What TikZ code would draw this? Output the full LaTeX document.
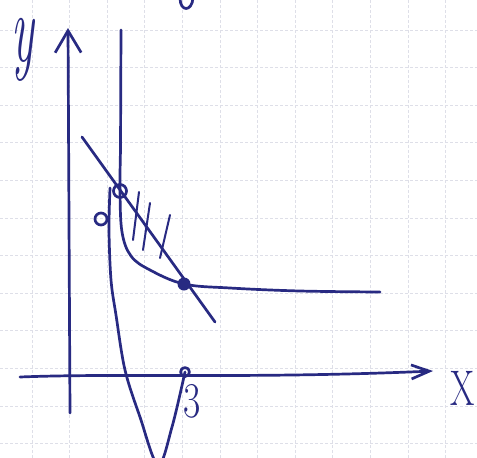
\documentclass[tikz,border=0pt]{standalone}
\usepackage{graphicx}
\usetikzlibrary{arrows.meta,positioning,calc}
\definecolor{inkBlue}{RGB}{40,42,130}
\definecolor{gridGray}{RGB}{222,223,232}
\tikzset{
    % pen strokes of the sketch
    pen/.style={draw=inkBlue,line width=2.7pt,line cap=round,line join=round},
    hatch/.style={draw=inkBlue,line width=2pt,line cap=round},
    yarrow/.style={pen,-{Straight Barb[length=22pt,width=26pt,line width=2.7pt]}},
    xarrow/.style={pen,-{Straight Barb[length=18pt,width=14pt,line width=2.7pt]}},
    gridline/.style={draw=gridGray,line width=0.7pt,dash pattern=on 3pt off 2pt},
    % hand written labels
    handtext/.style={text=inkBlue,inner sep=0pt,font=\fontsize{50}{50}\selectfont}
}

\begin{document}
\begin{tikzpicture}[x=1pt,y=-1pt]
\useasboundingbox (0,0) rectangle (477,458);
\clip (0,0) rectangle (477,458);
\fill[white] (0,0) rectangle (477,458);

% Squared paper
\foreach \k in {0,...,11} {
    \draw[gridline] ({32+37.6*\k},0) -- ({32+37.6*\k},458);
    \draw[gridline] (0,{30+37.6*\k}) -- (477,{30+37.6*\k});
}

% Points of the sketch
\coordinate (yBottom) at (70,413);
\coordinate (yTop) at (68,28);
\coordinate (xLeft) at (20,377);
\coordinate (xRight) at (433,371);
\coordinate (vertTop) at (121,30);
\coordinate (touchPt) at (120,191);
\coordinate (meetPt) at (184,284);
\coordinate (threePt) at (185,372);
\coordinate (lineStart) at (82,137);
\coordinate (lineEnd) at (215,322);
\coordinate (curveEnd) at (380,292);

% Axes
\draw[yarrow] (yBottom) -- (yTop);
\draw[xarrow] (xLeft) .. controls (120,373) and (250,379) .. (xRight);

% Labels
\node[handtext,font=\fontsize{56}{56}\selectfont] (ylabel) at (23,50) {\scalebox{0.85}[1.75]{\itshape y}};
\node[handtext] (xlabel) at (463,388) {\scalebox{0.7}[1]{X}};
\node[handtext] (threelabel) at (192,401) {\scalebox{0.75}[1]{3}};

% Vertical line and curve
\draw[pen] (vertTop) -- (120.5,150);
\draw[pen] plot[smooth,tension=0.6] coordinates {(120.5,150) (touchPt) (122,232) (131,256) (150,270) (meetPt) (230,288) (300,291) (curveEnd)};

% Straight line through both points
\draw[pen] (lineStart) -- (lineEnd);

% Parabola
\draw[pen] plot[smooth,tension=0.55] coordinates {(110,188) (109,230) (111,280) (116,315) (125,370) (140,417) (158,465) (172,427) (threePt)};

% Hatching
\draw[hatch] (139,192) -- (133,240);
\draw[hatch] (150,203) -- (143,250);
\draw[hatch] (170,215) -- (160,258);

% Marked points
\draw[pen] (touchPt) circle (6.5);
\fill[inkBlue] (meetPt) circle (6.5);
\draw[pen] (threePt) circle (4.5);
\draw[pen] (101,219) circle (6);

% Cut off letter at the top
\draw[pen] (180,-2) .. controls (180,12) and (192,12) .. (193,-2);

\end{tikzpicture}
\end{document}
